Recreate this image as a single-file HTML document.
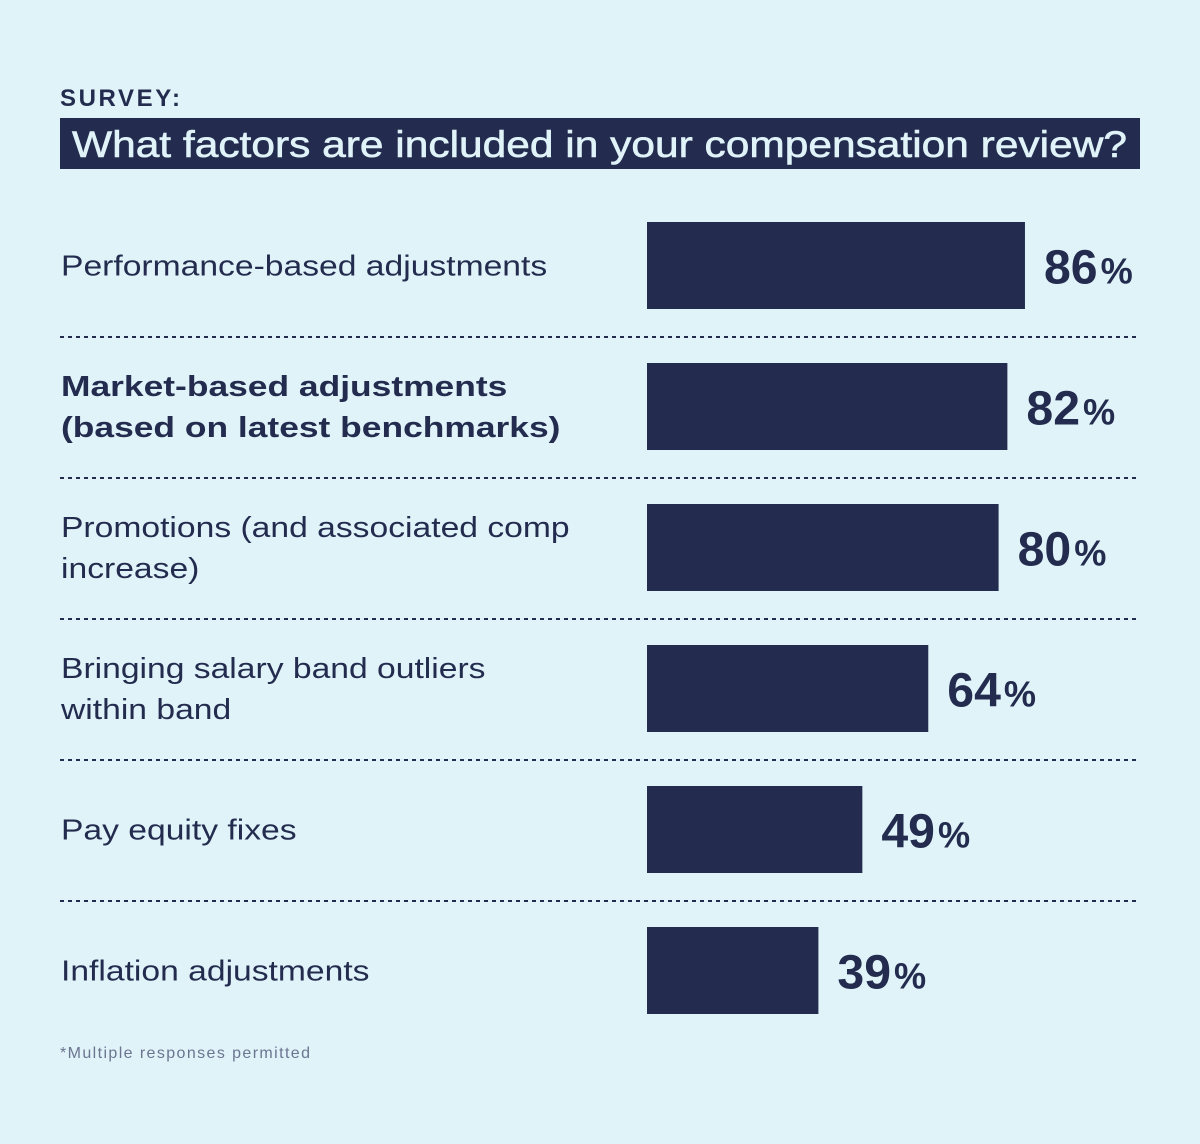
<!DOCTYPE html>
<html><head><meta charset="utf-8"><style>
body{margin:0;background:#e0f3f8;}
svg{display:block;font-family:"Liberation Sans",sans-serif;}
</style></head><body>
<svg id="chart" width="1200" height="1144" xmlns="http://www.w3.org/2000/svg">
<rect x="0" y="0" width="1200" height="1144" fill="#e0f3f8"/>
<text x="60" y="106" font-size="24" font-weight="bold" fill="#232c4f" textLength="120">SURVEY:</text>
<rect x="60" y="118" width="1080" height="51" fill="#232c4f"/>
<text x="72" y="157" font-size="37" fill="#e0f3f8" stroke="#e0f3f8" stroke-width="0.6" textLength="1055" lengthAdjust="spacingAndGlyphs">What factors are included in your compensation review?</text>
<g id="rows"></g>
<text x="60" y="1058" font-size="16" fill="#6b7590" textLength="250">*Multiple responses permitted</text>
</svg>
<script>
const categories = [
  ["Performance-based adjustments"],
  ["Market-based adjustments", "(based on latest benchmarks)"],
  ["Promotions (and associated comp", "increase)"],
  ["Bringing salary band outliers", "within band"],
  ["Pay equity fixes"],
  ["Inflation adjustments"]
];
const values = [86, 82, 80, 64, 49, 39];
const boldRows = [false, true, false, false, false, false];

const NS = "http://www.w3.org/2000/svg";
const g = document.getElementById('rows');
const x0 = 647, pxPer = 4.395;
const xScale = v => v * pxPer;
const rowTop = i => 222 + i * 141;
const barH = 87;
function mk(tag, attrs){const e=document.createElementNS(NS,tag);for(const k in attrs)e.setAttribute(k,attrs[k]);return e;}
function stretch(t, f){const w=t.getComputedTextLength();t.setAttribute('textLength', (w*f).toFixed(1));t.setAttribute('lengthAdjust','spacingAndGlyphs');}

values.forEach((v, i) => {
  const top = rowTop(i), mid = top + barH / 2;
  const bar = mk('rect', {x:x0, y:top, width:xScale(v), height:barH, fill:'#232c4f'});
  
  
  g.appendChild(bar);

  const lines = categories[i];
  const lh = 41;
  const startY = mid - (lines.length - 1) * lh / 2 + 10;
  lines.forEach((ln, j) => {
    const t = mk('text', {x:61, y:startY + j*lh, 'font-size':29, fill:'#232c4f', 'font-weight': boldRows[i] ? 'bold' : 'normal'});
    
    
    t.textContent = ln;
    g.appendChild(t);
    stretch(t, boldRows[i] ? 1.22 : 1.16);
  });

  const vt = mk('text', {x:x0 + xScale(v) + 19, y:mid + 18, 'font-size':48, 'font-weight':'bold', fill:'#232c4f'});
  
  
  const num = mk('tspan', {}); num.textContent = v;
  const pct = mk('tspan', {'font-size':36, 'font-weight':'bold', dx:3}); pct.textContent = '%';
  vt.appendChild(num); vt.appendChild(pct);
  g.appendChild(vt);
  stretch(vt, 1.04);

  if (i < values.length - 1) {
    const ly = top + barH + 28;
    const l = mk('line', {x1:60, x2:1140, y1:ly, y2:ly, stroke:'#232c4f', 'stroke-width':2, 'stroke-dasharray':'4 4'});
    
    
    g.appendChild(l);
  }
});
</script>
</body></html>
